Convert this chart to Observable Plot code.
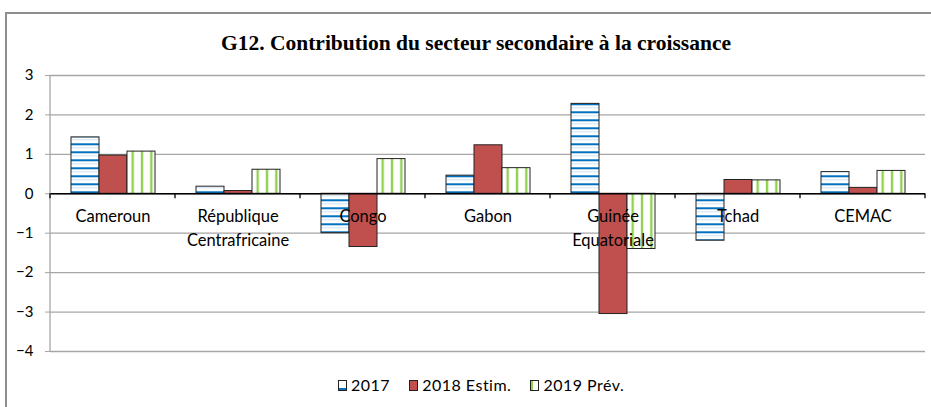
<!DOCTYPE html>
<html><head><meta charset="utf-8">
<script src="https://cdn.jsdelivr.net/npm/d3@7"></script>
<script src="https://cdn.jsdelivr.net/npm/@observablehq/plot@0.6"></script>
<style>
html,body{margin:0;padding:0;background:#fff}
body{width:931px;height:407px;overflow:hidden;position:relative;font-family:Lato,sans-serif}
#frame{position:absolute;left:5px;top:12px;width:960px;height:430px;border:2px solid #8f8f8f;box-sizing:border-box}
#title{position:absolute;left:0;top:31px;width:952px;text-align:center;font-family:"Liberation Serif",serif;font-weight:bold;font-size:21.5px;line-height:24px;color:#000}
#chart{position:absolute;left:0;top:60px}
#legend{position:absolute;left:338px;top:376px;display:flex;align-items:center;font-size:16px;letter-spacing:0.5px;line-height:18px;color:#000}
.item{display:flex;align-items:center;margin-right:19px}
.sw{width:7px;height:9px;border:1px solid #222;margin-right:4px;box-sizing:content-box}
</style></head>
<body>
<div id="frame"></div>
<div id="title">G12. Contribution du secteur secondaire à la croissance</div>
<div id="chart"></div>
<div id="legend"></div>
<script>
const categories = ["Cameroun","République Centrafricaine","Congo","Gabon","Guinée Equatoriale","Tchad","CEMAC"];
const catLabels = ["Cameroun","République\nCentrafricaine","Congo","Gabon","Guinée\nEquatoriale","Tchad","CEMAC"];
const series = ["2017","2018 Estim.","2019 Prév."];
const v2017 = [1.43, 0.18, -1.00, 0.46, 2.28, -1.19, 0.55];
const v2018 = [0.97, 0.07, -1.35, 1.23, -3.05, 0.35, 0.15];
const v2019 = [1.07, 0.61, 0.88, 0.65, -1.40, 0.34, 0.58];
const yTicks = [3, 2, 1, 0, -1, -2, -3, -4];
const seriesFill = ["url(#pat2017)", "#C0504D", "url(#pat2019)"];

const values = [v2017, v2018, v2019];
const data = categories.flatMap((c, i) => series.map((s, j) => ({cat: c, series: s, value: values[j][i]})));

const plot = Plot.plot({
  width: 931, height: 301,
  marginLeft: 50, marginRight: 6, marginTop: 15, marginBottom: 10,
  style: {fontFamily: "Lato, sans-serif", fontSize: "15px", color: "#000", background: "transparent", overflow: "visible"},
  fx: {domain: categories, padding: 0, axis: null, label: null},
  x: {domain: series, paddingInner: 0, paddingOuter: 0.732, axis: null},
  y: {domain: [-4, 3], axis: null},
  color: {domain: series, range: seriesFill},
  marks: [
    Plot.gridY(yTicks, {stroke: "#a6a6a6", strokeOpacity: 1, strokeWidth: 1.3}),
    Plot.axisY(yTicks, {tickSize: 5, tickPadding: 12, stroke: "#a6a6a6", label: null, fontSize: 15}),
    Plot.barY(data, {fx: "cat", x: "series", y: "value", fill: "series", stroke: "#222", strokeWidth: 1}),
    Plot.ruleY([0], {stroke: "#000", strokeWidth: 1.6}),
    Plot.text(categories, {fx: d => d, y: () => 0, text: (d, i) => catLabels[i], dy: 11, lineAnchor: "top", lineHeight: 1.45, fontSize: 16.5, fill: "#000"})
  ]
});

const fx = plot.scale("fx"), ys = plot.scale("y");
const y0 = ys.apply(0);
const svg = d3.select(plot);
const defs = svg.insert("defs", ":first-child");
const p1 = defs.append("pattern").attr("id", "pat2017").attr("patternUnits", "userSpaceOnUse")
  .attr("x", 0).attr("y", y0 - 2).attr("width", 8).attr("height", 8);
p1.append("rect").attr("width", 8).attr("height", 8).attr("fill", "#fff");
p1.append("rect").attr("y", 0).attr("width", 8).attr("height", 2).attr("fill", "#0070C0");
p1.append("rect").attr("y", 4).attr("width", 8).attr("height", 1).attr("fill", "#cfe2f3");
const p2 = defs.append("pattern").attr("id", "pat2019").attr("patternUnits", "objectBoundingBox")
  .attr("patternContentUnits", "objectBoundingBox").attr("width", 1/3).attr("height", 1);
p2.append("rect").attr("width", 1/3).attr("height", 1).attr("fill", "#fff");
p2.append("rect").attr("x", 0.16).attr("width", 0.085).attr("height", 1).attr("fill", "#92D050");

// y axis line and group separator ticks, positioned through the plot's scales
const x0 = fx.range[0];
svg.append("line").attr("x1", x0).attr("x2", x0).attr("y1", ys.apply(3)).attr("y2", ys.apply(-4))
  .attr("stroke", "#a6a6a6").attr("stroke-width", 1.3);
const edges = categories.map(c => fx.apply(c)).concat([fx.apply(categories[categories.length - 1]) + fx.bandwidth]);
svg.append("g").selectAll("line").data(edges).join("line")
  .attr("x1", d => d).attr("x2", d => d).attr("y1", y0).attr("y2", y0 + 5)
  .attr("stroke", "#000").attr("stroke-width", 1.3);

document.getElementById("chart").appendChild(plot);

// legend
const legend = d3.select("#legend");
series.forEach((s, j) => {
  const it = legend.append("div").attr("class", "item");
  const sw = it.append("div").attr("class", "sw");
  if (j === 0) sw.style("background", "#fff").style("box-shadow", "inset 0 -2px 0 #0070C0");
  if (j === 1) sw.style("background", "#C0504D");
  if (j === 2) sw.style("background", "#fff").style("box-shadow", "inset 2px 0 0 #92D050");
  it.append("span").text(s);
});
</script>
</body></html>
